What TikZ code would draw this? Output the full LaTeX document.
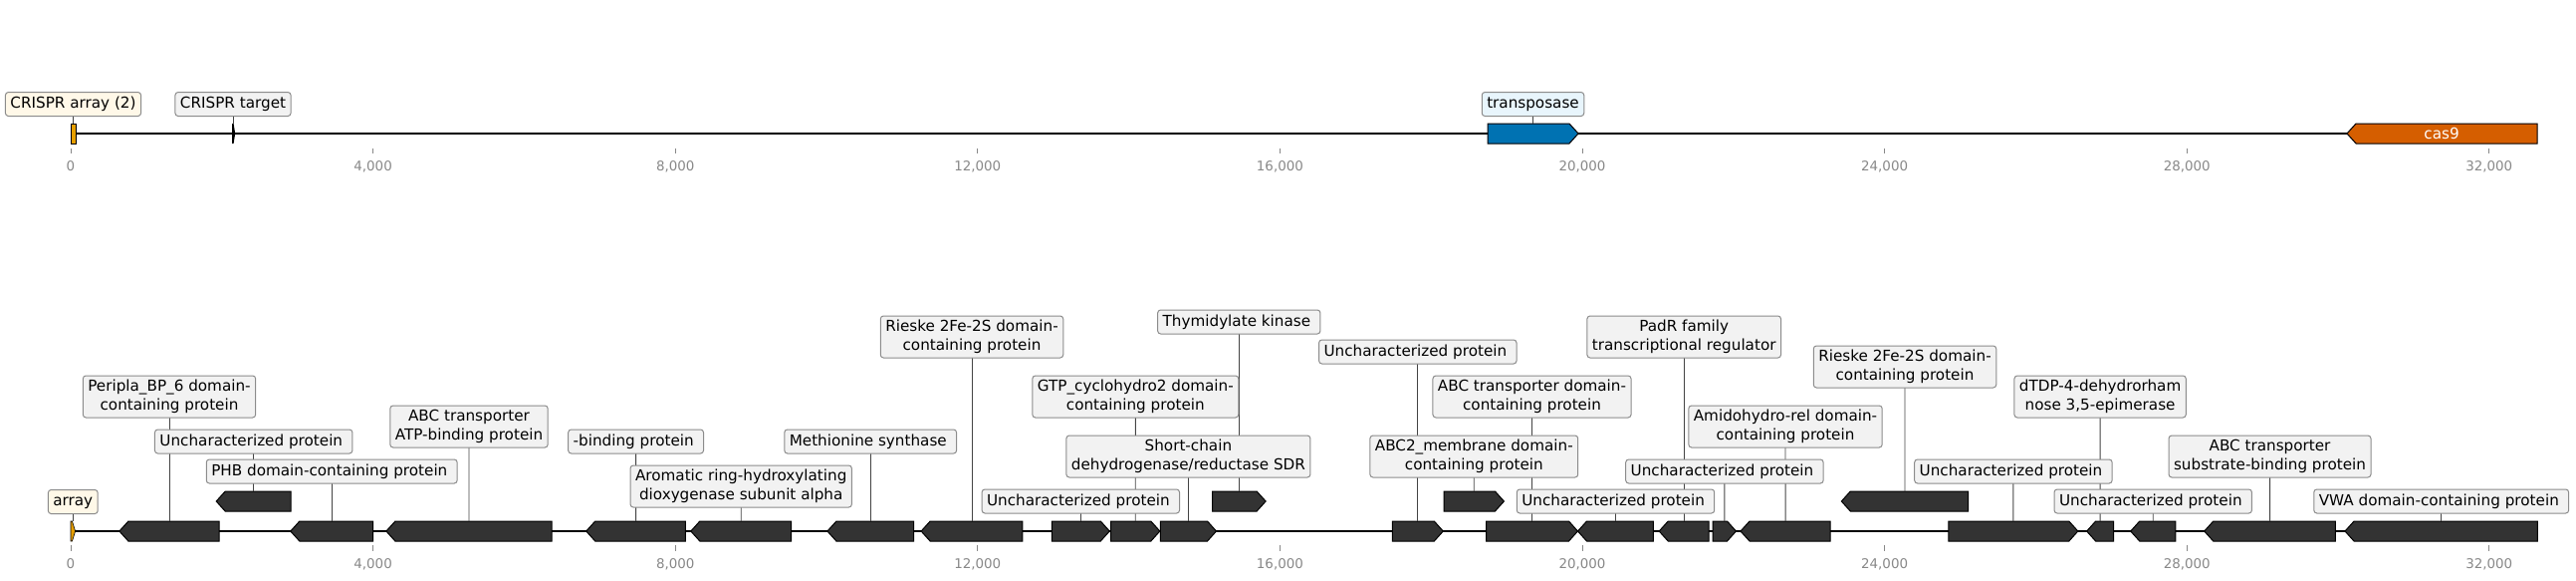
\documentclass[tikz,border=0pt]{standalone}
\usepackage{fontspec}
\setmainfont{DejaVu Sans}
\definecolor{genegray}{HTML}{333333}
\definecolor{boxgray}{HTML}{8C8C8C}
\definecolor{lblfill}{HTML}{F2F2F2}
\definecolor{creamfill}{HTML}{FFF8E8}
\definecolor{bluefill}{HTML}{E8F5FC}
\definecolor{crorange}{HTML}{E69F00}
\definecolor{tnblue}{HTML}{0072B2}
\definecolor{casred}{HTML}{D55E00}
\definecolor{tickgray}{HTML}{888888}
\definecolor{conngray}{HTML}{444444}
\newcommand\lblfont{\fontsize{15.2}{18.5}\selectfont}
\newcommand\tickfont{\fontsize{13.4}{15}\selectfont}
% right-pointing gene: x0 x1 y style name
\newcommand\gnR[5]{%
  \draw[#4] (#1,#3-10) -- (#2-9,#3-10) -- (#2,#3) -- (#2-9,#3+10) -- (#1,#3+10) -- cycle;
  \coordinate (#5) at ({(#1+#2)/2},#3-10);}
% left-pointing gene
\newcommand\gnL[5]{%
  \draw[#4] (#1,#3) -- (#1+9,#3-10) -- (#2,#3-10) -- (#2,#3+10) -- (#1+9,#3+10) -- cycle;
  \coordinate (#5) at ({(#1+#2)/2},#3-10);}
\tikzset{
  genebox/.style={fill=genegray, draw=black, line width=1pt, line join=miter},
  backbone/.style={draw=black, line width=2pt},
  lblbase/.style={draw=boxgray, fill=lblfill, rounded corners=3pt, line width=1pt,
    inner xsep=5pt, inner ysep=0pt, font=\lblfont, align=center, text=black},
  lblone/.style={lblbase, minimum height=24pt, text height=11.5pt, text depth=3.5pt},
  lbltwo/.style={lblbase, minimum height=42pt},
  conn/.style={draw=conngray, line width=0.9pt},
  tickmark/.style={draw=tickgray, line width=1pt},
  ticklbl/.style={font=\tickfont, text=tickgray, inner sep=0pt}
}
\begin{document}
\begin{tikzpicture}[x=1pt,y=-1pt]
\useasboundingbox (0,0) rectangle (2587,582);
\fill[white] (0,0) rectangle (2587,582);

% ================= TOP TRACK =================
\draw[backbone] (71,134) -- (2548,134);
\draw[fill=crorange, draw=black, line width=1pt] (71,124) rectangle (76,144);
\coordinate (tg1) at (73.5,124);
\fill[black] (233,124) -- (234.6,124) -- (236.2,134) -- (234.6,144) -- (233,144) -- cycle;
\coordinate (tg2) at (234,124);
\gnR{1494}{1585}{134}{genebox, fill=tnblue}{tg3}
\gnL{2357}{2548}{134}{genebox, fill=casred}{tg4}
\node[font=\lblfont, text=white] (cas) at (2452,134) {cas9};

\foreach \k/\t in {0/0,1/{4,000},2/{8,000},3/{12,000},4/{16,000},5/{20,000},6/{24,000},7/{28,000},8/{32,000}}{
  \draw[tickmark] (71+\k*303.6,149) -- (71+\k*303.6,154);
  \node[ticklbl] (tt\k) at (71+\k*303.6,167) {\t};
}

\node[lblone, fill=creamfill] (tl1) at (73.5,104.5) {CRISPR array (2)};
\draw[conn] (tl1.south) -- (tg1);
\node[lblone] (tl2) at (234,104.5) {CRISPR target};
\draw[conn] (tl2.south) -- (tg2);
\node[lblone, fill=bluefill] (tl3) at (1539.5,104.5) {transposase};
\draw[conn] (tl3.south) -- (tg3);

% ================= BOTTOM TRACK =================
\draw[backbone] (71,533) -- (2548,533);
\fill[crorange, draw=black, line width=0.6pt] (71,523) -- (72.5,523) -- (75.6,533) -- (72.5,543) -- (71,543) -- cycle;
\coordinate (g0) at (73.3,523);

\gnL{119.9}{220.1}{533}{genebox}{g1}
\gnL{217.2}{292.2}{503}{genebox}{g2}
\gnL{291.8}{374.6}{533}{genebox}{g3}
\gnL{387.9}{554.0}{533}{genebox}{g4}
\gnL{588.7}{688.4}{533}{genebox}{g5}
\gnL{693.8}{794.7}{533}{genebox}{g6}
\gnL{830.9}{917.5}{533}{genebox}{g7}
\gnL{925.1}{1026.9}{533}{genebox}{g8}
\gnR{1056.3}{1114.3}{533}{genebox}{g9}
\gnR{1115.7}{1164.8}{533}{genebox}{g10}
\gnR{1165.3}{1221.5}{533}{genebox}{g11}
\gnR{1217.5}{1271.1}{503}{genebox}{g12}
\gnR{1398.3}{1449.3}{533}{genebox}{g13}
\gnR{1450.1}{1510.4}{503}{genebox}{g14}
\gnR{1492.5}{1584.5}{533}{genebox}{g15}
\gnL{1584.5}{1660.4}{533}{genebox}{g16}
\gnL{1666.2}{1716.2}{533}{genebox}{g17}
\gnR{1720.2}{1743.5}{533}{genebox}{g18}
\gnL{1748.0}{1838.1}{533}{genebox}{g19}
\gnL{1849.3}{1976.6}{503}{genebox}{g20}
\gnR{1956.9}{2086.8}{533}{genebox}{g21}
\gnL{2095.6}{2122.7}{533}{genebox}{g22}
\gnL{2139.7}{2184.8}{533}{genebox}{g23}
\gnL{2213.7}{2345.4}{533}{genebox}{g24}
\gnL{2355.0}{2548.4}{533}{genebox}{g25}

\foreach \k/\t in {0/0,1/{4,000},2/{8,000},3/{12,000},4/{16,000},5/{20,000},6/{24,000},7/{28,000},8/{32,000}}{
  \draw[tickmark] (71+\k*303.6,547) -- (71+\k*303.6,553);
  \node[ticklbl] (bt\k) at (71+\k*303.6,566) {\t};
}

\node[lblone, fill=creamfill] (l0) at (73.3,503.5) {array};
\draw[conn] (l0.south) -- (g0);

% label anchor points and connectors (drawn under the boxes)
\foreach \n/\x/\y in {1/170/398, 2/254.7/443, 3/333.2/473, 4/471/428, 5/638.6/443,
  6/744.2/488, 7/874.2/443, 8/976/338, 9/1085.3/503, 10/1140.3/398, 11/1193.4/458,
  12/1244.3/323, 13/1423.8/353, 14/1480.3/458, 15/1538.5/398, 16/1622.5/503,
  17/1691.2/338, 18/1731.9/473, 19/1793/428, 20/1913/368, 21/2021.9/473,
  22/2109.1/398, 23/2162.2/503, 24/2279.5/458, 25/2451.7/503}{
  \path (\x,\y) coordinate (c\n);
  \draw[conn] (c\n) -- (g\n);
}
\foreach \n/\s/\t in {
  1/lbltwo/{Peripla\_BP\_6 domain-\\containing protein},
  2/lblone/{Uncharacterized protein~},
  3/lblone/{PHB domain-containing protein~},
  4/lbltwo/{ABC transporter\\ATP-binding protein},
  5/lblone/{-binding protein~},
  6/lbltwo/{Aromatic ring-hydroxylating\\dioxygenase subunit alpha},
  7/lblone/{Methionine synthase~},
  8/lbltwo/{Rieske 2Fe-2S domain-\\containing protein},
  9/lblone/{Uncharacterized protein~},
  10/lbltwo/{GTP\_cyclohydro2 domain-\\containing protein},
  11/lbltwo/{Short-chain\\dehydrogenase/reductase SDR},
  12/lblone/{Thymidylate kinase~},
  13/lblone/{Uncharacterized protein~},
  14/lbltwo/{ABC2\_membrane domain-\\containing protein},
  15/lbltwo/{ABC transporter domain-\\containing protein},
  16/lblone/{Uncharacterized protein~},
  17/lbltwo/{PadR family\\transcriptional regulator},
  18/lblone/{Uncharacterized protein~},
  19/lbltwo/{Amidohydro-rel domain-\\containing protein},
  20/lbltwo/{Rieske 2Fe-2S domain-\\containing protein},
  21/lblone/{Uncharacterized protein~},
  22/lbltwo/{dTDP-4-dehydrorham\\nose 3,5-epimerase},
  23/lblone/{Uncharacterized protein~},
  24/lbltwo/{ABC transporter\\substrate-binding protein},
  25/lblone/{VWA domain-containing protein~}}{
  \node[\s] (l\n) at (c\n) {\t};
}
\end{tikzpicture}
\end{document}
